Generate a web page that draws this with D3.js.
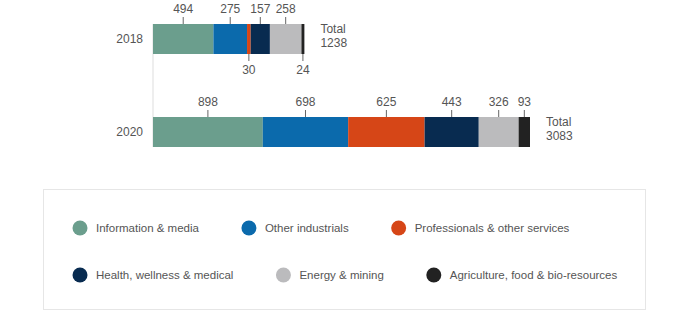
<!DOCTYPE html>
<html>

<head>
  <title>Companies by sector</title>
  <script src="https://cdn.jsdelivr.net/npm/d3@7"></script>
  <style>
    body { margin: 0; background: #fff; }
    text { font-family: "Liberation Sans", Arial, sans-serif; fill: #555; }
  </style>
</head>

<body>
  <svg width="690" height="326" id="mainsvg"></svg>
  <script>
    // data
    const years = ['2018', '2020'];
    const categories = ['Information & media', 'Other industrials', 'Professionals & other services',
      'Health, wellness & medical', 'Energy & mining', 'Agriculture, food & bio-resources'];
    const values2018 = [494, 275, 30, 157, 258, 24];
    const values2020 = [898, 698, 625, 443, 326, 93];
    const colors = ['#6b9e8d', '#0b6aac', '#d64617', '#082b50', '#bbbbbd', '#222222'];

    const svg = d3.select('#mainsvg');
    const fontSize = 12;
    const barHeight = 30;

    // build rows with stacked offsets
    const rows = years.map((y, i) => {
      const vals = i === 0 ? values2018 : values2020;
      let acc = 0;
      const segs = vals.map((v, k) => {
        const s = { year: y, cat: categories[k], value: v, x0: acc, x1: acc + v, color: colors[k] };
        acc += v;
        return s;
      });
      return { year: y, segs: segs, total: acc };
    });

    const xScale = d3.scaleLinear()
      .domain([0, d3.max(rows, r => r.total)])
      .range([153, 530]);
    const yScale = d3.scalePoint()
      .domain(years)
      .range([39, 132]);

    // thin baseline from first bar to last bar
    svg.append('line')
      .attr('x1', xScale(0)).attr('x2', xScale(0))
      .attr('y1', yScale(years[0]) - barHeight / 2)
      .attr('y2', yScale(years[years.length - 1]) + barHeight / 2)
      .attr('stroke', '#dddddd');

    const rowG = svg.selectAll('.row').data(rows).join('g')
      .attr('class', 'row')
      .attr('transform', d => `translate(0, ${yScale(d.year)})`);

    rowG.selectAll('.seg').data(d => d.segs).join('rect')
      .attr('class', 'seg')
      .attr('x', d => xScale(d.x0))
      .attr('y', -barHeight / 2)
      .attr('width', d => xScale(d.x1) - xScale(d.x0))
      .attr('height', barHeight)
      .attr('fill', d => d.color);

    // year labels
    rowG.append('text')
      .attr('x', xScale(0) - 10)
      .attr('dy', '0.35em')
      .attr('text-anchor', 'end')
      .attr('font-size', fontSize)
      .text(d => d.year);

    // totals
    rowG.append('text')
      .attr('x', d => xScale(d.total) + 16)
      .attr('y', -6)
      .attr('font-size', fontSize)
      .text('Total');
    rowG.append('text')
      .attr('x', d => xScale(d.total) + 16)
      .attr('y', 8)
      .attr('font-size', fontSize)
      .text(d => d.total);

    // value labels: above the bar unless they'd collide with the previous label
    rowG.each(function (r) {
      const g = d3.select(this);
      let lastRight = -Infinity;
      r.segs.forEach(s => {
        const cx = (xScale(s.x0) + xScale(s.x1)) / 2;
        const w = String(s.value).length * 6.7;
        const below = cx - w / 2 < lastRight + 3;
        if (!below) lastRight = cx + w / 2;
        const top = -barHeight / 2, bottom = barHeight / 2;
        g.append('line')
          .attr('x1', cx).attr('x2', cx)
          .attr('y1', below ? bottom : top - 7)
          .attr('y2', below ? bottom + 7 : top)
          .attr('stroke', '#666').attr('stroke-width', 1);
        g.append('text')
          .attr('x', cx)
          .attr('y', below ? bottom + 20 : top - 11)
          .attr('text-anchor', 'middle')
          .attr('font-size', fontSize)
          .text(s.value);
      });
    });

    // legend box
    svg.append('rect')
      .attr('x', 43.5).attr('y', 189.5)
      .attr('width', 602).attr('height', 120)
      .attr('fill', '#fff')
      .attr('stroke', '#e6e6e6');

    const legendRows = [categories.slice(0, 3), categories.slice(3)];
    const legendY = [228, 275];
    legendRows.forEach((cats, ri) => {
      let x = 80;
      cats.forEach(c => {
        const k = categories.indexOf(c);
        const lg = svg.append('g').attr('transform', `translate(${x}, ${legendY[ri]})`);
        lg.append('circle').attr('r', 7.5).attr('fill', colors[k]);
        const t = lg.append('text')
          .attr('x', 16)
          .attr('dy', '0.35em')
          .attr('font-size', 11.5)
          .text(c);
        x += 16 + t.node().getComputedTextLength() + 50;
      });
    });
  </script>
</body>

</html>
